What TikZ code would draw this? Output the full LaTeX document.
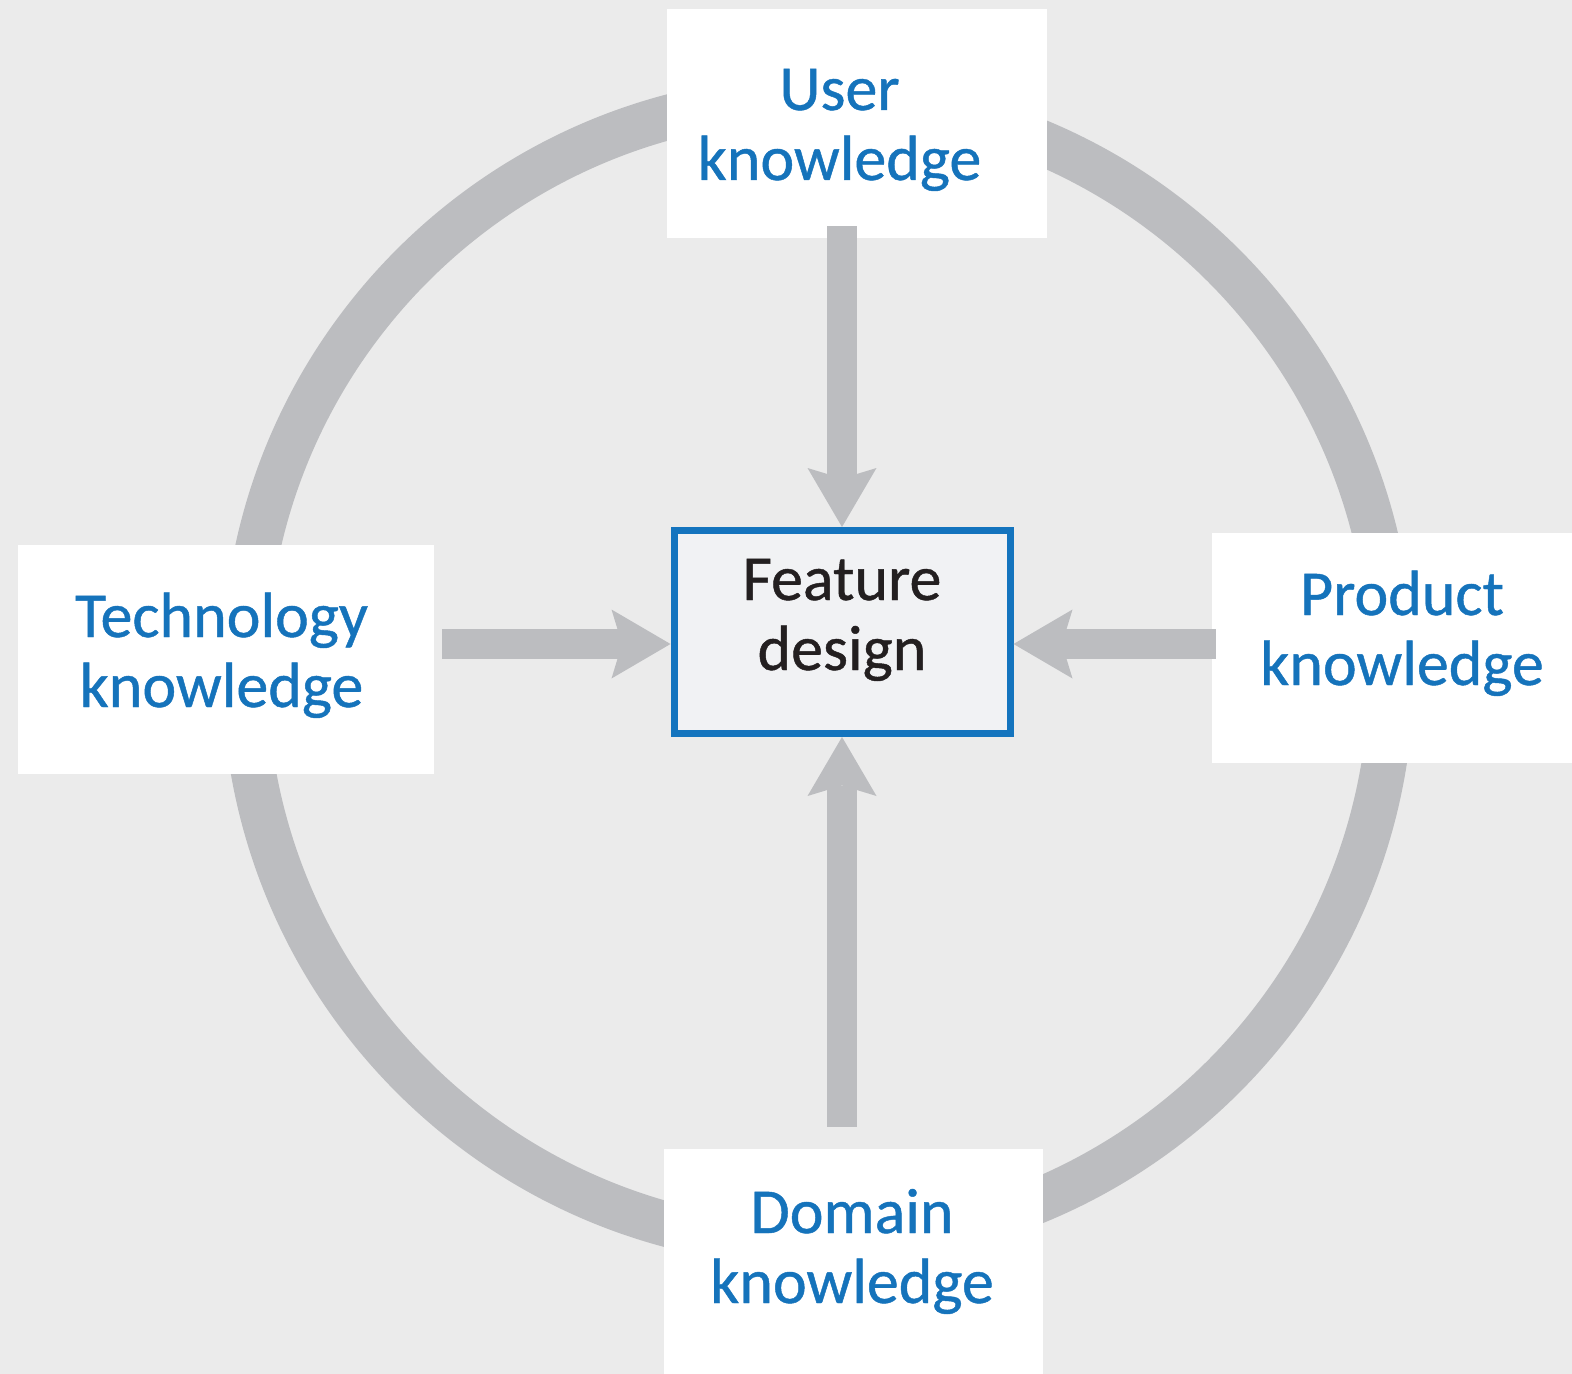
\documentclass[tikz,border=0pt]{standalone}
\usepackage{fontspec}
\setmainfont{Carlito}
\newfontfamily\labelfont{Carlito}[FakeBold=0.7]
\usetikzlibrary{arrows.meta,calc}
\definecolor{bgGray}{HTML}{EBEBEB}
\definecolor{ringGray}{HTML}{BCBDC0}
\definecolor{textBlue}{HTML}{1573BB}
\definecolor{lineBlue}{HTML}{1474BE}
\definecolor{featFill}{HTML}{F1F2F4}
\definecolor{featText}{HTML}{231F20}
\begin{document}
\begin{tikzpicture}[x=0.5pt, y=-0.5pt,
                box_style/.style={rectangle, fill=white, inner sep=0pt},
                text_style/.style={align=center, text=textBlue, inner sep=0pt, anchor=base,
                  font=\labelfont\fontsize{32}{35}\selectfont},
                edge_style/.style={draw=ringGray, line width=15pt,
                  -{Stealth[length=29.5pt, width=34.5pt, inset=5.25pt, line width=0pt]}}]
                \useasboundingbox (0,0) rectangle (1572,1374);
                \clip (0,0) rectangle (1572,1374);
                \fill[bgGray] (0,0) rectangle (1572,1374);
                \draw[ringGray, line width=22.5pt] (818,671) circle [radius=286.75pt];
                \node[box_style, minimum width=190pt, minimum height=114.5pt] (user) at (857,123.5) {};
                \node[box_style, minimum width=208pt, minimum height=114.5pt] (tech) at (226,659.5) {};
                \node[box_style, minimum width=184pt, minimum height=115pt] (prod) at (1396,648) {};
                \node[box_style, minimum width=189.5pt, minimum height=115.5pt] (domain) at (853.5,1264.5) {};
                \node[rectangle, draw=lineBlue, line width=3.5pt, fill=featFill, inner sep=0pt,
                  minimum width=168pt, minimum height=101.5pt] (feature) at (842,632) {};
                % base = baseline of the second line
                \node[text_style] (user_text) at (839.5,180) {User\\knowledge};
                \node[text_style] (tech_text) at (221.5,707) {Technology\\knowledge};
                \node[text_style] (prod_text) at (1402,685) {Product\\knowledge};
                \node[text_style] (domain_text) at (852,1303) {Domain\\knowledge};
                \node[text_style, text=featText] (feature_text) at (842,670) {Feature\\design};
                \coordinate (feat_w) at ($(feature.west)+(0,12)$);
                \coordinate (feat_e) at ($(feature.east)+(0,12)$);
                \draw[edge_style] ($(feature.north |- user.south)+(0,-12)$) -- (feature.north);
                \draw[edge_style] ($(feature.south |- domain.north)+(0,-22)$) -- (feature.south);
                \draw[edge_style] ($(tech.east |- feat_w)+(8,0)$) -- (feat_w);
                \draw[edge_style] ($(prod.west |- feat_e)+(4,0)$) -- (feat_e);
            \end{tikzpicture}
\end{document}
